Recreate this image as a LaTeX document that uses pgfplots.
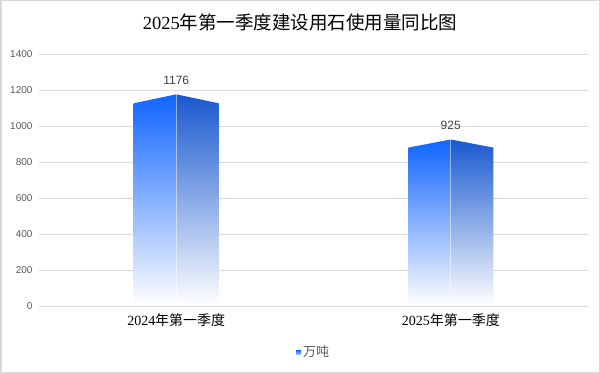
\documentclass[border=0pt]{standalone}
\usepackage{pgfplots}
\pgfplotsset{compat=1.18}
\usepackage{fontspec}
\setmainfont{Liberation Sans}
\newfontfamily\cjk{Noto Sans CJK SC}
\newfontfamily\serifdig{Liberation Serif}
\definecolor{lefttop}{RGB}{16,100,255}
\definecolor{righttop}{RGB}{24,88,208}
\definecolor{gridc}{RGB}{217,217,217}
\definecolor{tickc}{RGB}{89,89,89}
\definecolor{labc}{RGB}{64,64,64}
\begin{document}
\begin{tikzpicture}[x=1pt,y=1pt]
\useasboundingbox (0,0) rectangle (600,374);
\draw[gridc, line width=1.5pt] (0.75,0.75) rectangle (599.25,373.25);
\node[font=\fontsize{18.5}{20}\selectfont, text=black] at (300,352) {\serifdig 2025\cjk 年第一季度建设用石使用量同比图};
\begin{axis}[
  at={(39pt,68pt)}, anchor=south west,
  width=549pt, height=252pt, scale only axis,
  xmin=-0.5, xmax=1.5, ymin=0, ymax=1400,
  axis line style={draw=none},
  ymajorgrids, grid style={gridc, line width=0.8pt},
  ytick={0,200,...,1400},
  xtick={0,1},
  xticklabels={{\serifdig 2024\cjk 年第一季度},{\serifdig 2025\cjk 年第一季度}},
  xticklabel style={font=\fontsize{14}{16}\selectfont, text=black, yshift=-4pt},
  yticklabel style={font=\fontsize{10}{12}\selectfont, text=tickc, xshift=-3pt},
  /pgf/number format/assume math mode=true,
  /pgf/number format/1000 sep={},
  major tick length=0pt,
  tick style={draw=none},
  legend style={at={(axis description cs:0.5,-0.183)}, anchor=center, draw=none, fill=none,
    font=\fontsize{13}{15}\selectfont\cjk, text=tickc, inner sep=1pt},
  legend image code/.code={\fill[top color=lefttop, bottom color=lefttop!40] (1pt,-2pt) rectangle (6pt,2pt);},
]
% bar 2024: value 1176
\addplot[draw=none, top color=lefttop, bottom color=white, forget plot] coordinates {(-0.155,0) (-0.155,1126) (0,1176) (0,0)} -- cycle;
\addplot[draw=none, top color=righttop, bottom color=white, forget plot] coordinates {(0,0) (0,1176) (0.155,1126) (0.155,0)} -- cycle;
% bar 2025: value 925
\addplot[draw=none, top color=lefttop, bottom color=white, forget plot] coordinates {(0.845,0) (0.845,880) (1,925) (1,0)} -- cycle;
\addplot[draw=none, top color=righttop, bottom color=white, forget plot] coordinates {(1,0) (1,925) (1.155,880) (1.155,0)} -- cycle;
% divider lines
\addplot[white, opacity=0.5, line width=0.8pt, forget plot] coordinates {(0,0) (0,1176)};
\addplot[white, opacity=0.5, line width=0.8pt, forget plot] coordinates {(1,0) (1,925)};
% value labels
\addplot[draw=none, mark=none, nodes near coords, point meta=explicit symbolic,
  every node near coord/.append style={font=\fontsize{12}{14}\selectfont, text=labc, anchor=center, yshift=14pt}]
  coordinates {(0,1176) [1176] (1,925) [925]};
\addlegendentry{万吨}
\end{axis}
\end{tikzpicture}
\end{document}
